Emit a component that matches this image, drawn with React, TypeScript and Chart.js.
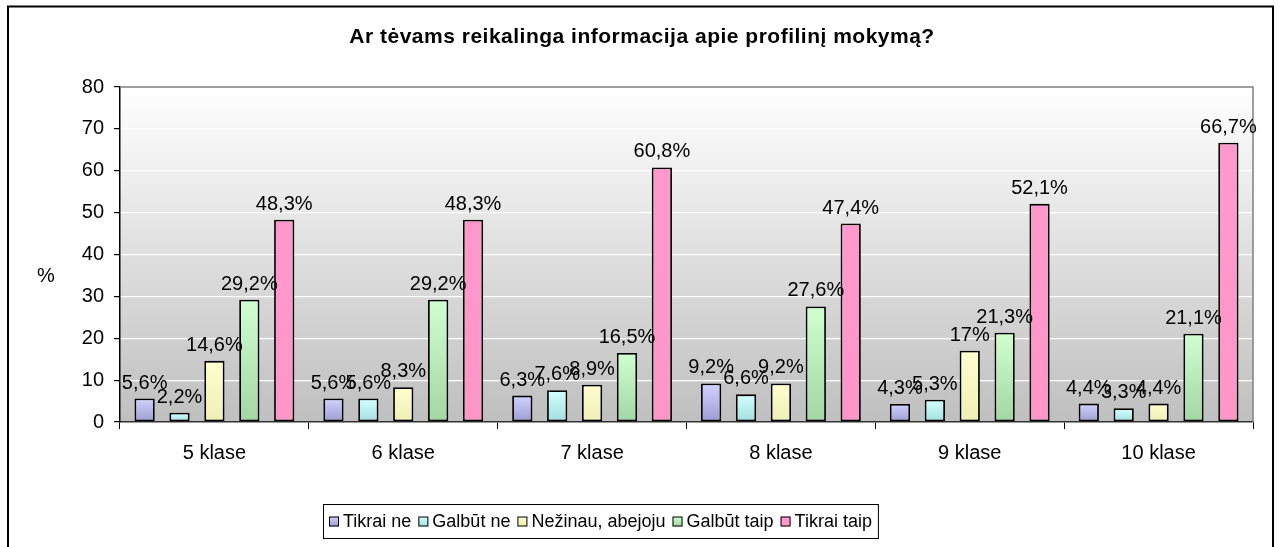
import React, { useEffect, useRef } from "react";
import { Chart, registerables } from "chart.js";

Chart.register(...registerables);

// ---- data ----
const chartTitle = "Ar tėvams reikalinga informacija apie profilinį mokymą?";
const yAxisTitle = "%";
const categories = ["5 klase", "6 klase", "7 klase", "8 klase", "9 klase", "10 klase"];
const seriesNames = ["Tikrai ne", "Galbūt ne", "Nežinau, abejoju", "Galbūt taip", "Tikrai taip"];
const tikraiNe = [5.6, 5.6, 6.3, 9.2, 4.3, 4.4];
const galbutNe = [2.2, 5.6, 7.6, 6.6, 5.3, 3.3];
const nezinau = [14.6, 8.3, 8.9, 9.2, 17, 4.4];
const galbutTaip = [29.2, 29.2, 16.5, 27.6, 21.3, 21.1];
const tikraiTaip = [48.3, 48.3, 60.8, 47.4, 52.1, 66.7];
const yTicks = [0, 10, 20, 30, 40, 50, 60, 70, 80];

// ---- styles ----
const FONT = '"Liberation Sans", Arial, sans-serif';
const palette: [string, string][] = [
  ["#d2d2ff", "#9c9cd2"],
  ["#d4ffff", "#a2dede"],
  ["#ffffd0", "#eeeeb4"],
  ["#d0ffd0", "#a2d6a2"],
  ["#ff99cc", "#ff96c8"],
];

const fmt = (v: number) => String(v).replace(".", ",") + "%";

const W = 1279;
const H = 547;

export default function App() {
  const ref = useRef<HTMLCanvasElement | null>(null);

  useEffect(() => {
    const canvas = ref.current;
    if (!canvas) return;
    const seriesValues = [tikraiNe, galbutNe, nezinau, galbutTaip, tikraiTaip];

    const barFill = (si: number) => (c: any) => {
      const chart = c.chart;
      if (!chart.chartArea || c.raw === undefined) return palette[si][0];
      const y = chart.scales.y;
      const top = y.getPixelForValue(c.raw);
      const bot = y.getPixelForValue(0);
      if (!isFinite(top) || !isFinite(bot) || bot - top < 1) return palette[si][0];
      const g = chart.ctx.createLinearGradient(0, top, 0, bot);
      g.addColorStop(0, palette[si][0]);
      g.addColorStop(1, palette[si][1]);
      return g;
    };

    const framePlugin = {
      id: "frame",
      beforeDraw(chart: any) {
        const { ctx, chartArea: a } = chart;
        ctx.save();
        ctx.fillStyle = "#ffffff";
        ctx.fillRect(0, 0, chart.width, chart.height);
        const g = ctx.createLinearGradient(0, a.top, 0, a.bottom);
        g.addColorStop(0, "#ffffff");
        g.addColorStop(1, "#bfbfbf");
        ctx.fillStyle = g;
        ctx.fillRect(a.left, a.top, a.right - a.left, a.bottom - a.top);
        ctx.strokeStyle = "#000";
        ctx.lineWidth = 2;
        ctx.strokeRect(8, 6.5, 1265, 620);
        ctx.restore();
      },
      beforeDatasetsDraw(chart: any) {
        const { ctx, chartArea: a } = chart;
        ctx.save();
        ctx.strokeStyle = "#808080";
        ctx.lineWidth = 1.5;
        ctx.beginPath();
        ctx.moveTo(a.left, a.top);
        ctx.lineTo(a.right, a.top);
        ctx.lineTo(a.right, a.bottom);
        ctx.stroke();
        ctx.restore();
      },
      afterDatasetsDraw(chart: any) {
        const ctx = chart.ctx;
        ctx.save();
        ctx.font = `20px ${FONT}`;
        ctx.fillStyle = "#000";
        ctx.textAlign = "center";
        ctx.textBaseline = "alphabetic";
        chart.data.datasets.forEach((ds: any, di: number) => {
          const meta = chart.getDatasetMeta(di);
          meta.data.forEach((el: any, i: number) => {
            ctx.fillText(fmt(ds.data[i]), el.x, el.y - 10);
          });
        });
        ctx.restore();
      },
      afterDraw(chart: any) {
        const ctx = chart.ctx;
        const a = chart.chartArea;
        ctx.save();
        // title
        ctx.fillStyle = "#000";
        ctx.font = `bold 21px ${FONT}`;
        (ctx as any).letterSpacing = "0.5px";
        ctx.textAlign = "center";
        ctx.textBaseline = "alphabetic";
        ctx.fillText(chartTitle, 642, 43);
        (ctx as any).letterSpacing = "0px";
        // y title
        ctx.font = `20px ${FONT}`;
        ctx.textBaseline = "middle";
        ctx.fillText(yAxisTitle, 46, (a.top + a.bottom) / 2 + 22);
        // legend
        ctx.font = `18px ${FONT}`;
        ctx.textAlign = "left";
        const box = 10, gap = 4, sep = 7, pad = 6;
        const labels = chart.data.datasets.map((d: any) => d.label);
        const widths = labels.map((l: string) => ctx.measureText(l).width);
        let total = 0;
        widths.forEach((w: number, i: number) => {
          total += box + gap + w + (i > 0 ? sep : 0);
        });
        const bw = total + pad * 2;
        const bh = 34;
        const left = Math.round(600 - bw / 2);
        const top = 504;
        ctx.strokeStyle = "#000";
        ctx.lineWidth = 1;
        ctx.strokeRect(left + 0.5, top + 0.5, bw, bh);
        const cy = top + bh / 2 + 0.5;
        let x = left + pad;
        labels.forEach((l: string, i: number) => {
          const g = ctx.createLinearGradient(0, cy - 5, 0, cy + 5);
          g.addColorStop(0, palette[i][0]);
          g.addColorStop(1, palette[i][1]);
          ctx.fillStyle = g;
          ctx.fillRect(x, cy - 5, box, box);
          ctx.strokeStyle = "#000";
          ctx.strokeRect(x + 0.5, cy - 4.5, box - 1, box - 1);
          ctx.fillStyle = "#000";
          ctx.fillText(l, x + box + gap, cy + 1);
          x += box + gap + widths[i] + sep;
        });
        ctx.restore();
      },
    };

    const chart = new Chart(canvas, {
      type: "bar",
      data: {
        labels: categories,
        datasets: seriesNames.map((name, si) => ({
          label: name,
          data: seriesValues[si],
          backgroundColor: barFill(si),
          borderColor: "#000",
          borderWidth: 1.8,
          borderSkipped: false,
          categoryPercentage: 0.924,
          barPercentage: 0.58,
        })),
      },
      options: {
        responsive: false,
        animation: false,
        devicePixelRatio: 1,
        layout: { padding: { top: 87, right: 26, bottom: 0, left: 0 } },
        plugins: {
          legend: { display: false },
          title: { display: false },
          tooltip: { enabled: false },
        },
        scales: {
          x: {
            grid: {
              offset: true,
              drawOnChartArea: false,
              tickLength: 7,
              color: "#000",
              tickColor: "#000",
            },
            border: { display: true, color: "#333", width: 1.5 },
            ticks: {
              font: { family: FONT, size: 20 },
              color: "#000",
              padding: 12,
              maxRotation: 0,
              autoSkip: false,
            },
            afterFit: (s: any) => {
              s.height = H - 422;
            },
          },
          y: {
            min: yTicks[0],
            max: yTicks[yTicks.length - 1],
            afterBuildTicks: (s: any) => {
              s.ticks = yTicks.map((v) => ({ value: v }));
            },
            ticks: {
              font: { family: FONT, size: 20 },
              color: "#000",
              padding: 10,
            },
            grid: { color: "#ffffff", tickColor: "#000", tickLength: 6, lineWidth: 1.2 },
            border: { display: true, color: "#000", width: 1.5 },
            afterFit: (s: any) => {
              s.width = 120;
            },
          },
        },
      },
      plugins: [framePlugin],
    } as any);

    return () => chart.destroy();
  }, []);

  return (
    <div style={{ position: "fixed", left: 0, top: 0, width: W, height: H, background: "#fff" }}>
      <canvas ref={ref} width={W} height={H} style={{ display: "block", width: W, height: H }} />
    </div>
  );
}
